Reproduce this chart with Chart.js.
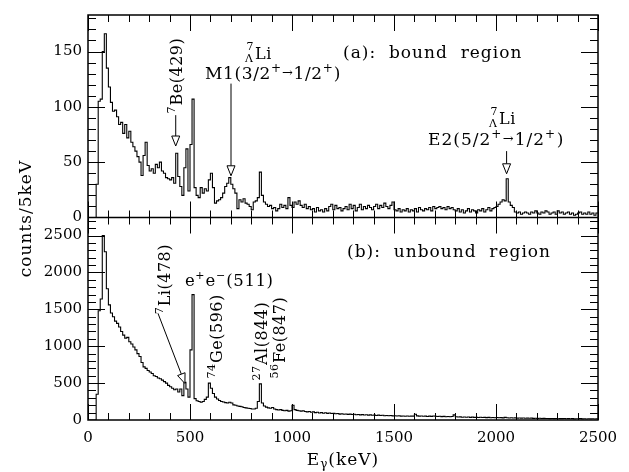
<!DOCTYPE html>
<html><head><meta charset="utf-8">
<script src="https://cdn.jsdelivr.net/npm/chart.js@4"></script>
<style>html,body{margin:0;padding:0;background:#fff;}#wrap{width:629px;height:472px;position:relative;}</style>
</head><body><div id="wrap"><canvas id="c"></canvas></div>
<script>
// ---- data (counts per 10 keV bin) ----
const BIN_WIDTH_KEV = 10;
const boundCounts = [
  0,0,0,0,30,105,107,150,166,135,
  118,104,96,97,91,84,86,76,84,72,
  78,68,64,60,55,50,38,56,68,47,
  42,44,40,48,45,50,42,40,36,35,
  34,36,31,58,37,28,20,45,62,24,
  66,107,27,20,18,27,22,26,24,34,
  40,27,13,15,16,18,22,28,31,36,
  30,26,22,8,16,14,17,13,12,10,
  7,14,15,18,41,20,14,12,10,11,
  8,9,6,8,12,9,11,8,18,11,
  9,14,12,15,11,9,12,8,10,7,
  8,5,9,6,7,5,8,6,10,12,
  7,11,8,9,6,8,10,7,12,8,
  11,6,9,12,7,10,8,11,9,7,
  10,12,8,11,9,13,10,8,11,14,
  7,6,8,5,7,6,8,5,7,6,
  8,5,9,7,6,8,7,9,6,10,
  8,9,10,8,9,7,10,8,9,7,
  6,8,5,7,4,6,8,5,7,6,
  4,7,6,8,5,7,9,6,8,9,
  10,12,14,16,15,35,14,11,9,5,
  4,5,3,4,5,4,3,5,4,6,
  4,3,5,4,6,5,3,4,5,3,
  6,4,5,3,4,5,3,4,2,3,
  4,5,3,4,3,5,3,4,2,4
];
const unboundCounts = [
  0,0,0,0,350,1480,1640,2500,2280,1780,
  1560,1450,1400,1340,1310,1260,1200,1150,1110,1120,
  1060,1030,990,950,900,860,780,720,700,670,
  650,630,600,590,570,560,540,520,500,470,
  450,430,410,420,380,420,330,510,420,310,
  950,1700,290,260,250,240,250,280,310,500,
  430,360,310,285,265,250,245,235,230,240,
  230,205,200,190,185,180,170,165,160,155,
  150,150,160,250,490,230,190,175,165,160,
  170,150,140,135,140,130,125,130,120,125,
  200,140,130,125,120,125,115,110,115,105,
  110,100,105,95,100,92,98,90,95,88,
  90,85,88,80,84,78,82,76,80,74,
  78,72,75,70,73,68,72,66,70,64,
  68,62,66,60,64,58,62,57,60,56,
  58,54,57,52,55,51,54,50,53,52,
  78,56,52,55,50,53,48,52,49,55,
  50,47,50,46,49,45,48,44,47,70,
  45,40,42,38,41,37,40,36,39,35,
  38,34,37,33,36,32,35,31,34,30,
  33,30,32,29,36,31,28,30,27,29,
  26,28,25,27,24,26,23,25,22,24,
  21,23,20,22,20,21,19,21,18,20,
  17,19,18,20,17,18,16,18,15,17,
  16,18,15,16,14,16,15,17,14,15
];
const xTickValues = [0,500,1000,1500,2000,2500];
const boundTickValues = [0,50,100,150];
const unboundTickValues = [0,500,1000,1500,2000,2500];

function histogram(counts){
  const pts = counts.map((c,i)=>({x:i*BIN_WIDTH_KEV, y:c}));
  pts.push({x:counts.length*BIN_WIDTH_KEV, y:counts[counts.length-1]});
  return pts;
}

// ---- annotations (anchored in data coordinates) ----
const labels = [
  {axis:'yA', e:1250, c:144.5, size:17, sp:1, parts:[['(a):  bound  region','n']]},
  {axis:'yA', e:461, c:94, rot:true, parts:[['7','sup'],['Be(429)','n']]},
  {axis:'yA', e:770, c:143.6, parts:[[['7','Λ'],'supsub'],['Li','n']]},
  {axis:'yA', e:574, c:124.8, size:17, sp:0.6, parts:[['M1(3/2','n'],['+','sup'],['→','arr'],['1/2','n'],['+','sup'],[')','n']]},
  {axis:'yA', e:1966, c:84.4, parts:[[['7','Λ'],'supsub'],['Li','n']]},
  {axis:'yA', e:1667, c:65.5, size:17, sp:1, parts:[['E2(5/2','n'],['+','sup'],['→','arr'],['1/2','n'],['+','sup'],[')','n']]},
  {axis:'yB', e:1270, c:2210, size:17, sp:1, parts:[['(b):  unbound  region','n']]},
  {axis:'yB', e:402, c:1433, rot:true, parts:[['7','sup'],['Li(478)','n']]},
  {axis:'yB', e:475, c:1821, size:16.5, sp:0.6, parts:[['e','n'],['+','sup'],['e','n'],['−','sup'],['(511)','n']]},
  {axis:'yB', e:659, c:562, rot:true, parts:[['74','sup'],['Ge(596)','n']]},
  {axis:'yB', e:877, c:536, rot:true, parts:[['27','sup'],['Al(844)','n']]},
  {axis:'yB', e:966, c:562, rot:true, parts:[['56','sup'],['Fe(847)','n']]}
];
const arrows = [
  {axis:'yA', from:[430,92.5], to:[430,64.6]},
  {axis:'yA', from:[701,121], to:[701,37.7]},
  {axis:'yA', from:[2052,60], to:[2052,39.5]},
  {axis:'yB', from:[343,1446], to:[475,495]}
];

const FONT = '"DejaVu Serif"';
Chart.defaults.color = '#000';
Chart.defaults.font.family = FONT;

function drawParts(ctx, parts, x0, y0, rot, size, sp){
  size = size || 16;
  ctx.save();
  ctx.translate(x0, y0);
  if (rot) ctx.rotate(-Math.PI/2);
  ctx.fillStyle = '#000';
  ctx.textAlign = 'left';
  ctx.textBaseline = 'alphabetic';
  try { ctx.letterSpacing = (sp === undefined ? 0.5 : sp) + 'px'; } catch(e) {}
  const small = Math.round(size*0.69);
  let x = 0;
  for (const [t,k] of parts){
    if (k === 'n'){ ctx.font = `${size}px ${FONT}`; ctx.fillText(t,x,0); x += ctx.measureText(t).width; }
    else if (k === 'sup'){ ctx.font = `${small}px ${FONT}`; ctx.fillText(t,x,-7); x += ctx.measureText(t).width + 0.5; }
    else if (k === 'arr'){ ctx.font = `${small+1}px ${FONT}`; ctx.fillText('→',x,-2); x += ctx.measureText('→').width; }
    else if (k === 'supsub'){
      ctx.font = `${small}px ${FONT}`;
      const w0 = ctx.measureText(t[0]).width, w1 = ctx.measureText(t[1]).width;
      ctx.fillText(t[0], x+1.5, -9);
      ctx.fillText(t[1], x, 3);
      x += Math.max(w0+1.5, w1) + 1;
    }
  }
  ctx.restore();
}

function drawArrow(ctx, x1, y1, x2, y2){
  const dx = x2-x1, dy = y2-y1, L = Math.hypot(dx,dy);
  const ux = dx/L, uy = dy/L, hl = 10, hw = 4;
  const bx = x2-ux*hl, by = y2-uy*hl;
  ctx.beginPath(); ctx.moveTo(x1,y1); ctx.lineTo(bx,by); ctx.stroke();
  ctx.beginPath();
  ctx.moveTo(x2,y2);
  ctx.lineTo(bx-uy*hw, by+ux*hw);
  ctx.lineTo(bx+uy*hw, by-ux*hw);
  ctx.closePath();
  ctx.fillStyle = '#fff'; ctx.fill(); ctx.stroke();
}

const decor = {
  id:'decor',
  afterDraw(chart){
    const {ctx, chartArea:ca, scales} = chart;
    const x = scales.x, yA = scales.yA, yB = scales.yB;
    ctx.save();
    ctx.strokeStyle = '#000';
    ctx.lineWidth = 1;
    const panels = [
      {s:yA, minor:10, major:50, max:183},
      {s:yB, minor:100, major:500, max:2745}
    ];
    ctx.beginPath();
    for (let v=0; v<=2500; v+=100){
      const px = Math.round(x.getPixelForValue(v))+0.5;
      const len = v%500===0 ? 16 : 7;
      for (const p of panels){
        ctx.moveTo(px, p.s.top); ctx.lineTo(px, p.s.top+len);
        ctx.moveTo(px, p.s.bottom); ctx.lineTo(px, p.s.bottom-len);
      }
    }
    for (const p of panels){
      for (let v=p.minor; v<p.max; v+=p.minor){
        const py = Math.round(p.s.getPixelForValue(v))+0.5;
        const len = v%p.major===0 ? 17 : 8;
        ctx.moveTo(ca.left, py); ctx.lineTo(ca.left+len, py);
        ctx.moveTo(ca.right, py); ctx.lineTo(ca.right-len, py);
      }
    }
    ctx.stroke();
    ctx.lineWidth = 1.5;
    ctx.strokeRect(ca.left, ca.top, ca.right-ca.left, ca.bottom-ca.top);
    ctx.beginPath(); ctx.moveTo(ca.left, yA.bottom); ctx.lineTo(ca.right, yA.bottom); ctx.stroke();
    ctx.lineWidth = 1;
    for (const a of arrows){
      const s = scales[a.axis];
      drawArrow(ctx, x.getPixelForValue(a.from[0]), s.getPixelForValue(a.from[1]),
                     x.getPixelForValue(a.to[0]), s.getPixelForValue(a.to[1]));
    }
    for (const l of labels){
      const s = scales[l.axis];
      drawParts(ctx, l.parts, x.getPixelForValue(l.e), s.getPixelForValue(l.c), l.rot, l.size, l.sp);
    }
    ctx.fillStyle = '#000';
    try { ctx.letterSpacing = '1px'; } catch(e) {}
    ctx.save();
    ctx.translate(31, (ca.top+ca.bottom)/2 + 1);
    ctx.rotate(-Math.PI/2);
    ctx.font = `17px ${FONT}`;
    ctx.textAlign = 'center'; ctx.textBaseline = 'alphabetic';
    ctx.fillText('counts/5keV', 0, 0);
    ctx.restore();
    ctx.font = `17px ${FONT}`;
    const wE = ctx.measureText('E').width;
    ctx.font = `12px ${FONT}`;
    const wg = ctx.measureText('γ').width;
    ctx.font = `17px ${FONT}`;
    const wk = ctx.measureText('(keV)').width;
    const total = wE + wg + wk;
    let tx = (ca.left+ca.right)/2 - total/2;
    const ty = 465;
    ctx.textAlign = 'left'; ctx.textBaseline = 'alphabetic';
    ctx.fillText('E', tx, ty); tx += wE;
    ctx.font = `12px ${FONT}`; ctx.fillText('γ', tx, ty+3); tx += wg;
    ctx.font = `17px ${FONT}`; ctx.fillText('(keV)', tx, ty);
    ctx.restore();
  }
};

const tickFont = {family: FONT, size: 15};
const plainNumber = v => String(v);
function yScale(max, tickVals){
  return {
    type:'linear', position:'left', stack:'panels', stackWeight:1,
    min:0, max:max,
    afterBuildTicks(s){ s.ticks = tickVals.map(v=>({value:v})); },
    ticks:{font:tickFont, color:'#000', padding:6, includeBounds:false, callback:plainNumber},
    grid:{display:false, drawTicks:false},
    border:{display:false},
    afterFit(s){ s.width = 88; }
  };
}

new Chart(document.getElementById('c'), {
  type:'line',
  data:{
    datasets:[
      {label:'bound', data:histogram(boundCounts), yAxisID:'yA', xAxisID:'x',
       borderColor:'#000', borderWidth:1.1, pointRadius:0, stepped:true, fill:false},
      {label:'unbound', data:histogram(unboundCounts), yAxisID:'yB', xAxisID:'x',
       borderColor:'#000', borderWidth:1.1, pointRadius:0, stepped:true, fill:false}
    ]
  },
  options:{
    responsive:true, maintainAspectRatio:false, animation:false, events:[],
    devicePixelRatio:1,
    layout:{padding:{left:0, right:31, top:10, bottom:0}},
    plugins:{legend:{display:false}, tooltip:{enabled:false}},
    scales:{
      x:{type:'linear', position:'bottom', min:0, max:2500,
         afterBuildTicks(s){ s.ticks = xTickValues.map(v=>({value:v})); },
         ticks:{font:tickFont, color:'#000', padding:9, maxRotation:0, autoSkip:false, includeBounds:false, callback:plainNumber},
         grid:{display:false, drawTicks:false}, border:{display:false},
         afterFit(s){ s.height = 52; }},
      yB: yScale(2745, unboundTickValues),
      yA: yScale(183, boundTickValues)
    }
  },
  plugins:[decor]
});
</script>
</body></html>
